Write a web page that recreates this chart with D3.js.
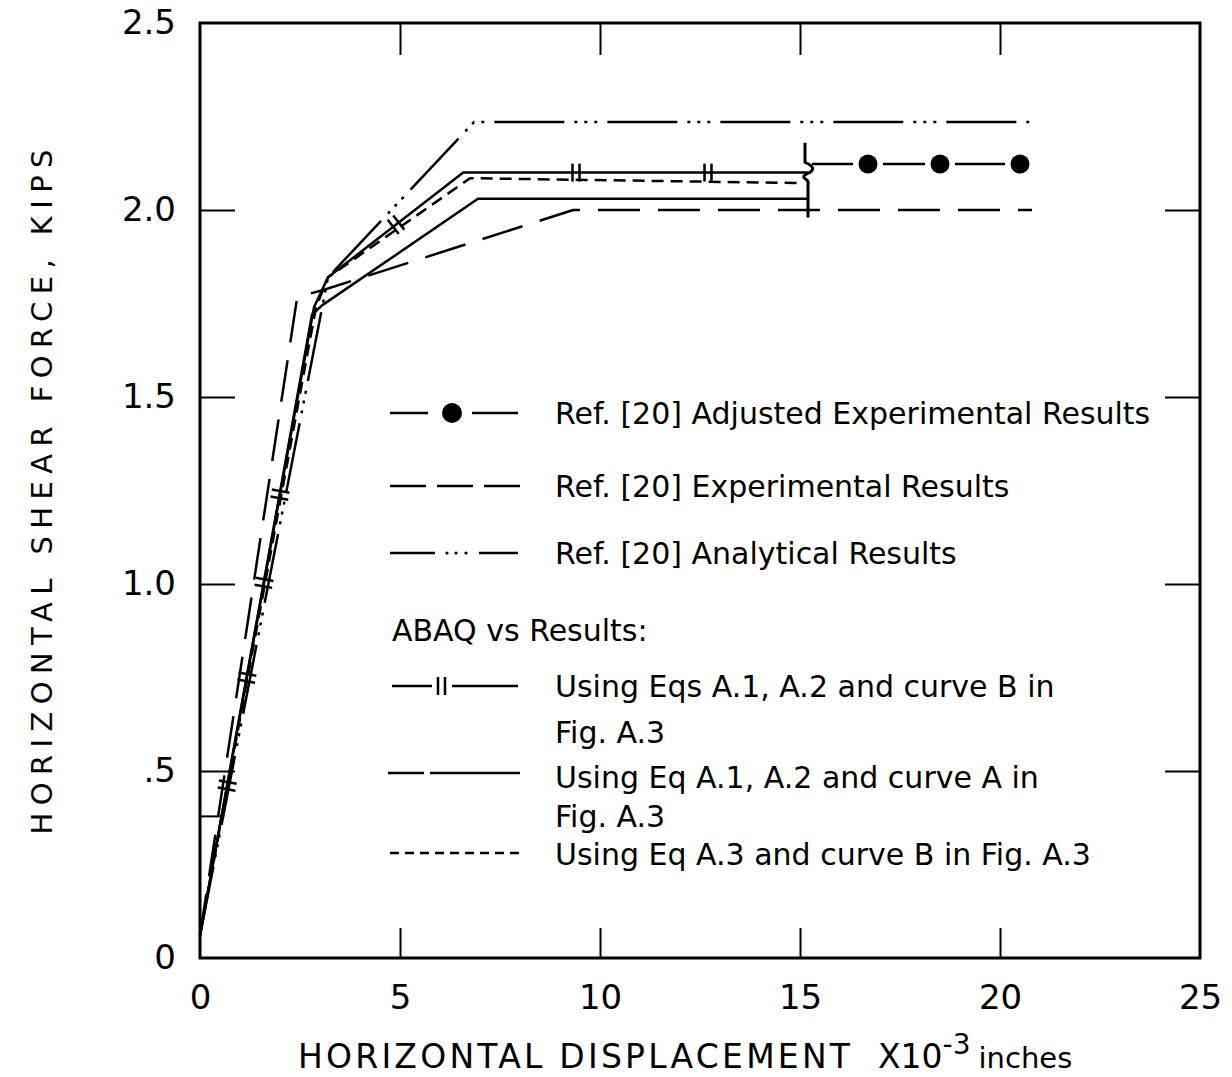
<!DOCTYPE html>
<html>
<head>
<meta charset="utf-8">
<script src="https://cdn.jsdelivr.net/npm/d3@7"></script>
<style>
  body { margin: 0; background: #fff; }
  svg { display: block; }
  text { font-family: "DejaVu Sans", sans-serif; fill: #000; }
</style>
</head>
<body>
<svg id="chart" width="1232" height="1077"></svg>
<script>
// Horizontal shear force (kips) vs horizontal displacement (x10^-3 in)
const xTicks = [0, 5, 10, 15, 20, 25];
const xTickLabels = ["0", "5", "10", "15", "20", "25"];
const yTicks = [0, 0.5, 1.0, 1.5, 2.0, 2.5];
const yTickLabels = ["0", ".5", "1.0", "1.5", "2.0", "2.5"];
const innerXTicks = [5, 10, 15, 20];
const innerYTicks = [0.5, 1.0, 1.5, 2.0];
const strayYTicks = [0.38];

// Ref. [20] analytical results
const analytical = [[0, 0.06], [3.2, 1.82], [6.85, 2.235], [20.8, 2.235]];
// Ref. [20] experimental results
const experimental = [[0, 0.06], [2.43, 1.767], [3.08, 1.786], [9.33, 2.0], [20.8, 2.0]];
// Ref. [20] adjusted experimental results
const adjustedLine = [[15.3, 2.123], [20.5, 2.123]];
const adjustedPoints = [[16.7, 2.123], [18.5, 2.123], [20.5, 2.123]];
// ABAQUS: Eqs A.1, A.2 and curve B
const abaqB = [[0, 0.06], [2.85, 1.74], [3.2, 1.82], [6.58, 2.10], [15.2, 2.10]];
const abaqBMarks = [0.68, 1.17, 1.6, 2.0, 4.9, 9.4, 12.7];
// ABAQUS: Eq A.1, A.2 and curve A
const abaqA = [[0, 0.06], [2.8, 1.72], [3.05, 1.745], [6.95, 2.03], [15.2, 2.03]];
// ABAQUS: Eq A.3 and curve B
const abaqA3 = [[0, 0.06], [2.9, 1.74], [3.2, 1.82], [6.75, 2.085], [15.0, 2.072]];
// break marker between computed and adjusted results
const breakAt = { x: 15.2, top: 2.18, bottom: 1.98, kink: 2.09 };

const svg = d3.select("#chart");
const x = d3.scaleLinear().domain([0, 25]).range([200, 1200]);
const y = d3.scaleLinear().domain([0, 2.5]).range([958, 23]);

const line = d3.line().x(d => x(d[0])).y(d => y(d[1]));

// frame
svg.append("rect")
  .attr("x", x(0)).attr("y", y(2.5))
  .attr("width", x(25) - x(0)).attr("height", y(0) - y(2.5))
  .attr("fill", "none").attr("stroke", "#000").attr("stroke-width", 3);

// inward ticks on all four sides
function tickAxis(axis, transform, size, values) {
  const g = svg.append("g").attr("transform", transform)
    .call(axis.tickValues(values).tickSize(size).tickFormat(""));
  g.select(".domain").remove();
  g.selectAll(".tick line").attr("stroke", "#000").attr("stroke-width", 2);
  return g;
}
tickAxis(d3.axisBottom(x), `translate(0,${y(0)})`, -30, innerXTicks);
tickAxis(d3.axisTop(x), `translate(0,${y(2.5)})`, -32, innerXTicks);
tickAxis(d3.axisLeft(y), `translate(${x(0)},0)`, -35, innerYTicks);
tickAxis(d3.axisRight(y), `translate(${x(25)},0)`, -35, innerYTicks);
tickAxis(d3.axisLeft(y), `translate(${x(0)},0)`, -23, strayYTicks);

// tick labels
const xLab = svg.append("g").attr("transform", `translate(0,${y(0)})`)
  .call(d3.axisBottom(x).tickValues(xTicks).tickSize(0).tickPadding(27)
    .tickFormat((d, i) => xTickLabels[i]));
xLab.select(".domain").remove();
xLab.selectAll("text").attr("font-size", 34).attr("font-family", "DejaVu Sans").attr("fill", "#000");

const yLab = svg.append("g").attr("transform", `translate(${x(0)},0)`)
  .call(d3.axisLeft(y).tickValues(yTicks).tickSize(0).tickPadding(24)
    .tickFormat((d, i) => yTickLabels[i]));
yLab.select(".domain").remove();
yLab.selectAll("text").attr("font-size", 34).attr("font-family", "DejaVu Sans").attr("fill", "#000");

// axis titles
svg.append("text")
  .attr("transform", "translate(52,492) rotate(-90)")
  .attr("text-anchor", "middle")
  .attr("font-size", 29)
  .attr("textLength", 685).attr("lengthAdjust", "spacing")
  .text("HORIZONTAL SHEAR FORCE, KIPS");

const xt = svg.append("text").attr("y", 1068).attr("font-size", 33);
xt.append("tspan").attr("x", 298).attr("textLength", 552).attr("lengthAdjust", "spacing")
  .text("HORIZONTAL DISPLACEMENT");
xt.append("tspan").attr("x", 878).text("X10");
xt.append("tspan").attr("dy", -14).attr("font-size", 28).text("-3");
xt.append("tspan").attr("dy", 14).attr("dx", 8).attr("font-size", 29).text("inches");

// curves
const plot = svg.append("g").attr("fill", "none").attr("stroke", "#000")
  .attr("stroke-width", 2.5).attr("stroke-linejoin", "round");

plot.append("path").datum(abaqA).attr("d", line);
plot.append("path").datum(abaqB).attr("d", line);
plot.append("path").datum(abaqA3).attr("d", line).attr("stroke-dasharray", "12,7");
plot.append("path").datum(experimental).attr("d", line).attr("stroke-dasharray", "42,18");
plot.append("path").datum(analytical).attr("d", line)
  .attr("stroke-dasharray", "70,10,3,7,3,7,3,10");

// "||" marks along the curve-B result
function along(series, xv) {
  for (let i = 0; i < series.length - 1; i++) {
    const [x0, y0] = series[i], [x1, y1] = series[i + 1];
    if (xv >= x0 && xv <= x1) {
      const t = (xv - x0) / (x1 - x0);
      const p = [x(x0 + t * (x1 - x0)), y(y0 + t * (y1 - y0))];
      const dx = x(x1) - x(x0), dy = y(y1) - y(y0);
      const len = Math.hypot(dx, dy);
      return { p, u: [dx / len, dy / len] };
    }
  }
  return null;
}
abaqBMarks.forEach(xv => {
  const a = along(abaqB, xv);
  if (!a) return;
  const n = [-a.u[1], a.u[0]];
  [-3.5, 3.5].forEach(off => {
    const cx = a.p[0] + a.u[0] * off, cy = a.p[1] + a.u[1] * off;
    plot.append("line")
      .attr("x1", cx - n[0] * 9).attr("y1", cy - n[1] * 9)
      .attr("x2", cx + n[0] * 9).attr("y2", cy + n[1] * 9)
      .attr("stroke-width", 2.5);
  });
});

// break marker
{
  const bx = x(breakAt.x), k = y(breakAt.kink);
  const p = d3.path();
  p.moveTo(bx - 3, y(breakAt.top));
  p.lineTo(bx - 3, k - 14);
  p.quadraticCurveTo(bx + 9, k - 9, bx + 2, k - 4);
  p.quadraticCurveTo(bx - 8, k, bx - 2, k + 3);
  p.quadraticCurveTo(bx + 1, k + 5, bx, k + 9);
  p.lineTo(bx, y(breakAt.bottom));
  plot.append("path").attr("d", p.toString()).attr("stroke-width", 3);
}

// adjusted experimental results: line broken around each dot
plot.append("path").datum(adjustedLine).attr("d", line);
svg.selectAll("circle.halo").data(adjustedPoints).join("circle")
  .attr("class", "halo").attr("cx", d => x(d[0])).attr("cy", d => y(d[1]))
  .attr("r", 15).attr("fill", "#fff");
svg.selectAll("circle.dot").data(adjustedPoints).join("circle")
  .attr("class", "dot").attr("cx", d => x(d[0])).attr("cy", d => y(d[1]))
  .attr("r", 9.5).attr("fill", "#000");

// legend
const leg = svg.append("g");
const sx0 = 390, sx1 = 518, tx = 555;
const legendText = [
  { yc: 413, text: "Ref. [20] Adjusted Experimental Results" },
  { yc: 486, text: "Ref. [20] Experimental Results" },
  { yc: 553, text: "Ref. [20] Analytical Results" },
  { yc: 686, text: "Using Eqs A.1, A.2 and curve B in" },
  { yc: 732, text: "Fig. A.3" },
  { yc: 777, text: "Using Eq A.1, A.2 and curve A in" },
  { yc: 816, text: "Fig. A.3" },
  { yc: 854, text: "Using Eq A.3 and curve B in Fig. A.3" }
];
legendText.forEach(d => {
  leg.append("text").attr("x", tx).attr("y", d.yc + 11).attr("font-size", 30).text(d.text);
});
leg.append("text").attr("x", 392).attr("y", 630 + 11).attr("font-size", 30).text("ABAQ  vs  Results:");

const ls = leg.append("g").attr("stroke", "#000").attr("stroke-width", 2.5).attr("fill", "none");
function seg(x1, x2, yy, dash) {
  const l = ls.append("line").attr("x1", x1).attr("x2", x2).attr("y1", yy).attr("y2", yy);
  if (dash) l.attr("stroke-dasharray", dash);
  return l;
}
// adjusted
seg(sx0, 428, 413); seg(472, sx1, 413);
leg.append("circle").attr("cx", 452).attr("cy", 413).attr("r", 10).attr("fill", "#000");
// experimental
seg(sx0, sx1 + 2, 486, "36,11");
// analytical
seg(sx0, 435, 553); seg(479, sx1, 553);
[447, 456, 466].forEach(cx => leg.append("circle").attr("cx", cx).attr("cy", 553).attr("r", 1.6).attr("fill", "#000"));
// curve B
seg(sx0 + 2, 432, 686); seg(452, sx1, 686);
[438, 445].forEach(bx => ls.append("line").attr("x1", bx).attr("x2", bx).attr("y1", 677).attr("y2", 695));
// curve A
seg(sx0 - 2, 424, 773); seg(430, sx1 + 2, 773);
// Eq A.3
seg(sx0, sx1 + 2, 853, "9,6");
</script>
</body>
</html>
